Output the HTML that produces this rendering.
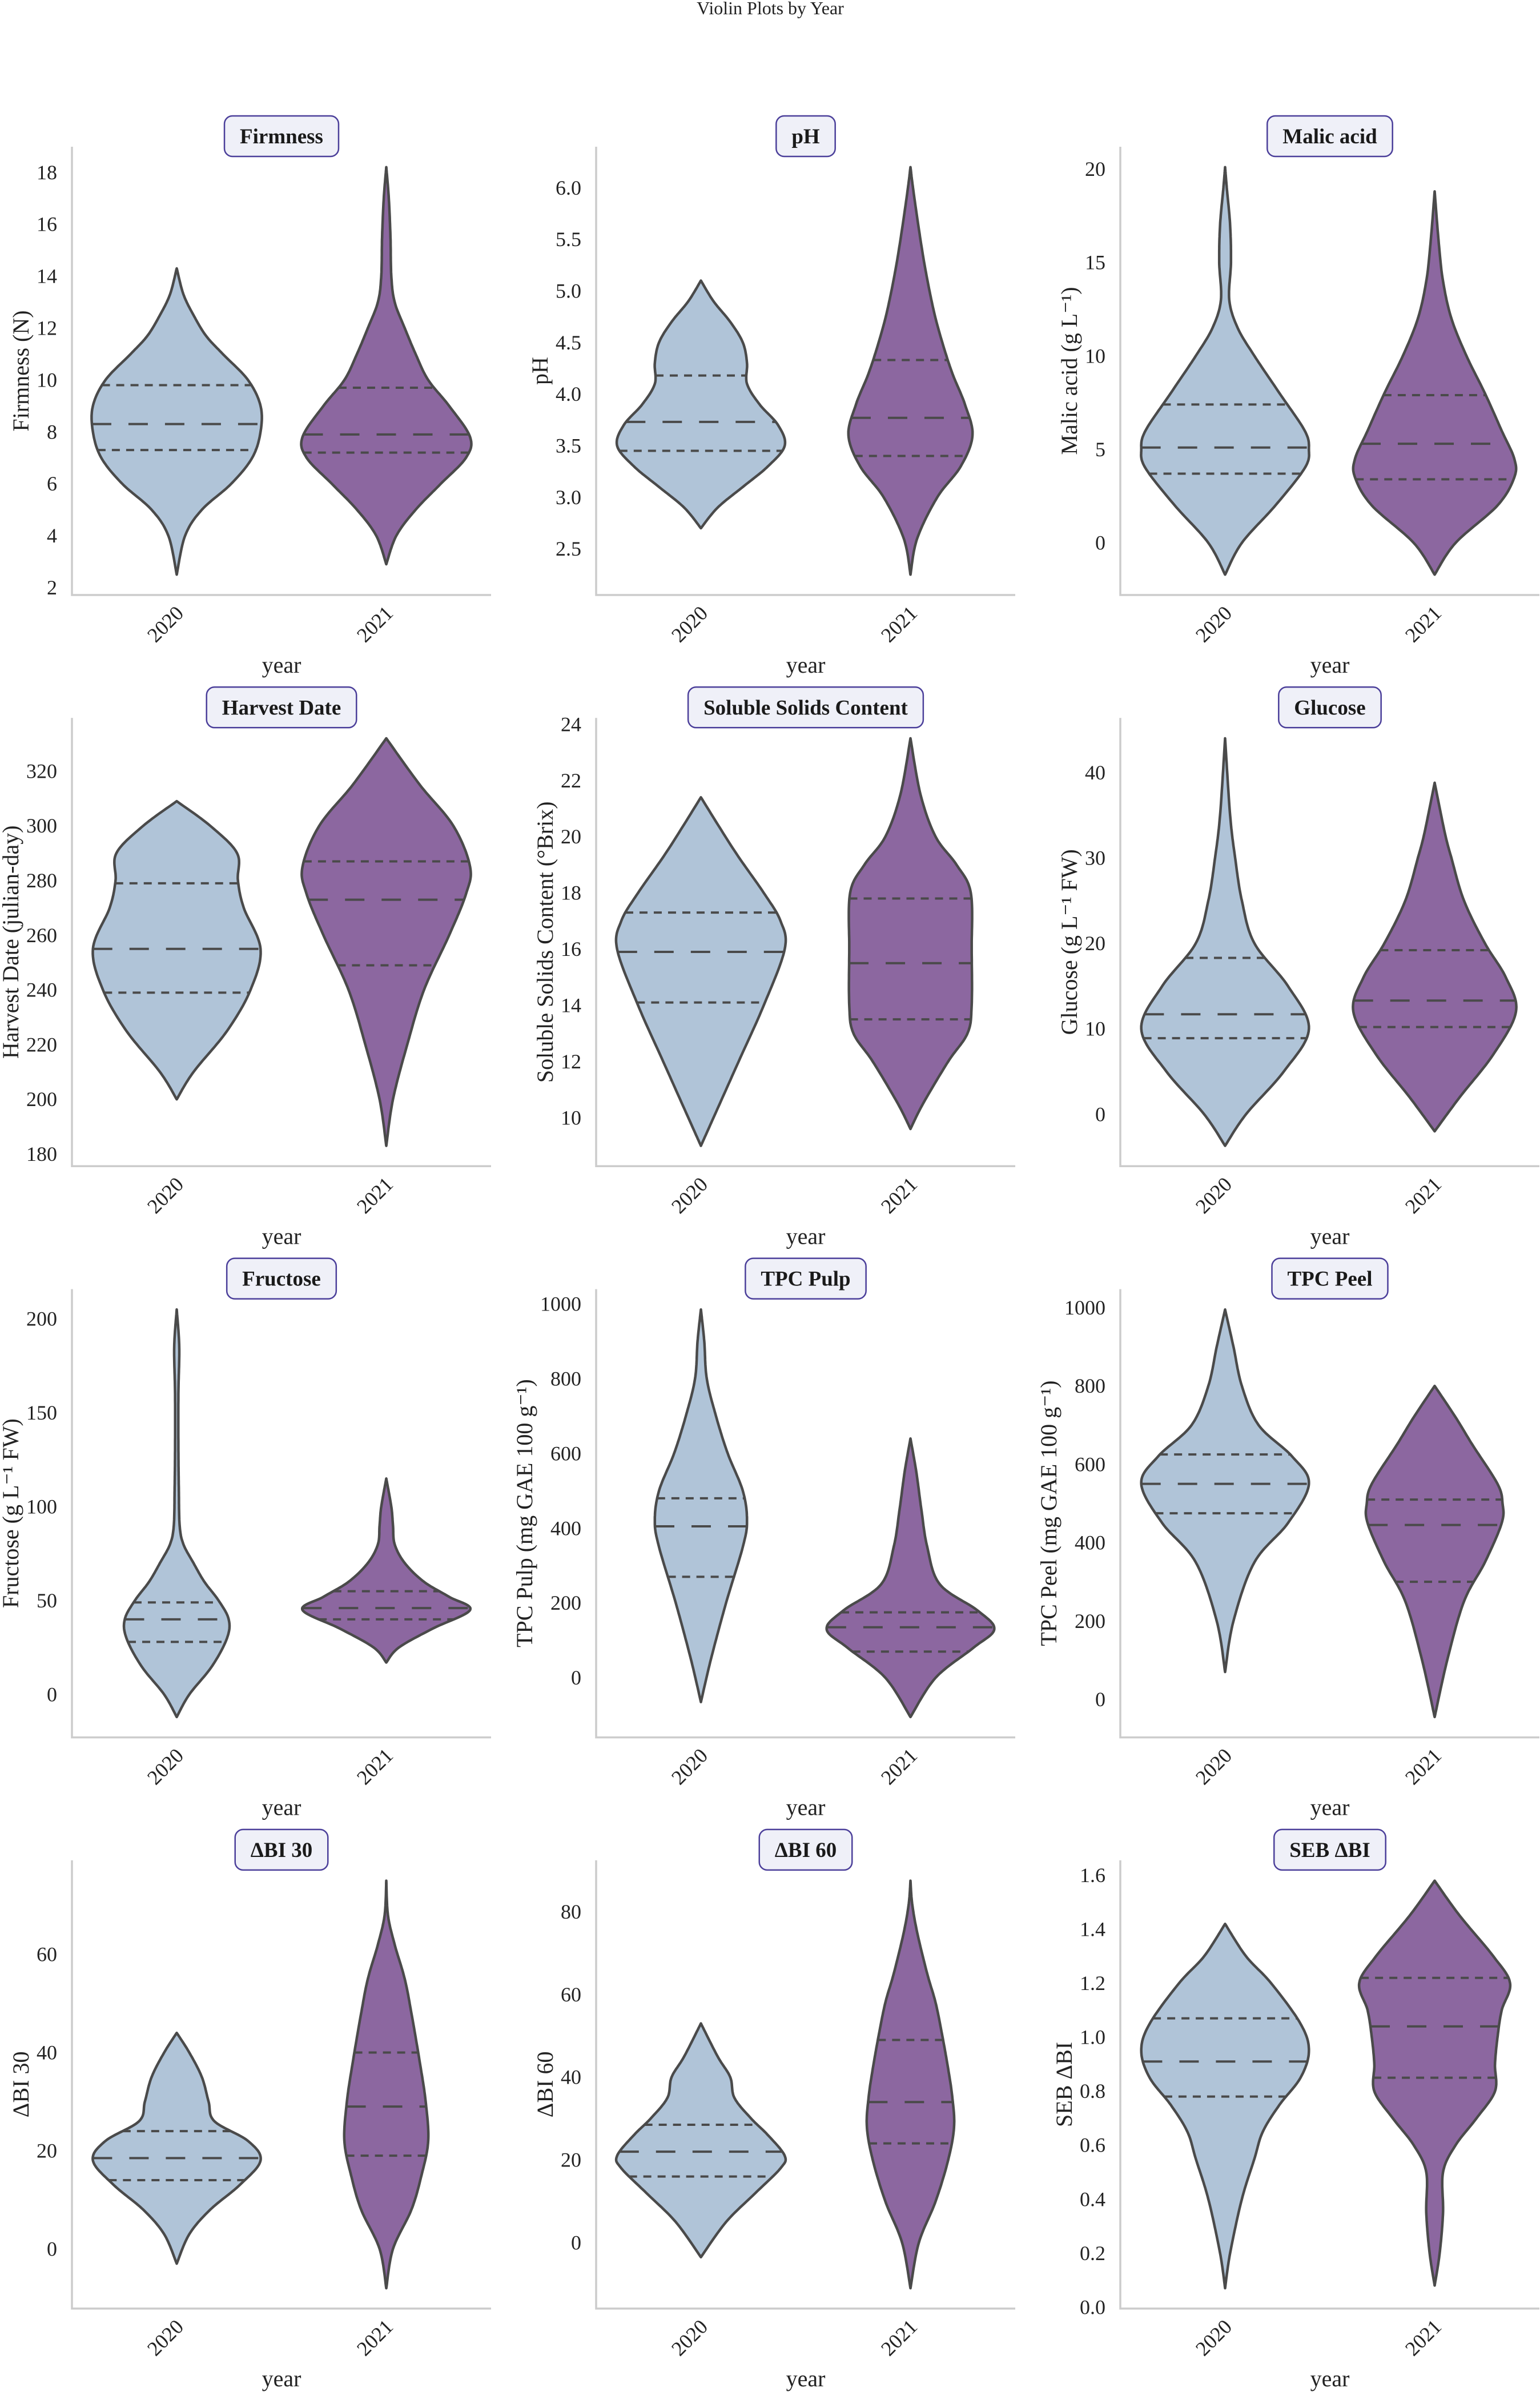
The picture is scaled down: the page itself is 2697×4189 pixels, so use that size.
<!DOCTYPE html>
<html><head><meta charset="utf-8"><style>
html,body{margin:0;padding:0;background:#fff;}
svg{display:block;font-family:"Liberation Serif",serif;}
</style></head><body>
<svg id="fig" xmlns="http://www.w3.org/2000/svg" width="2697" height="4189" viewBox="0 0 2697 4189">
<rect width="2697" height="4189" fill="#fff"/>
<text x="1349" y="25" font-size="32" text-anchor="middle" fill="#222">Violin Plots by Year</text>
</svg>
<script>
// ---- data: profile values (y), relative half-widths, quartiles ----
const years = ["2020","2021"];
const titles = ["Firmness","pH","Malic acid","Harvest Date","Soluble Solids Content","Glucose","Fructose","TPC Pulp","TPC Peel","ΔBI 30","ΔBI 60","SEB ΔBI"];
const ylabels = ["Firmness (N)","pH","Malic acid (g L⁻¹)","Harvest Date (julian-day)","Soluble Solids Content (°Brix)","Glucose (g L⁻¹ FW)","Fructose (g L⁻¹ FW)","TPC Pulp (mg GAE 100 g⁻¹)","TPC Peel (mg GAE 100 g⁻¹)","ΔBI 30","ΔBI 60","SEB ΔBI"];
const ticksFirm = [2,4,6,8,10,12,14,16,18];
const ticksPH = [2.5,3.0,3.5,4.0,4.5,5.0,5.5,6.0];
const ticksMalic = [0,5,10,15,20];
const ticksHarv = [180,200,220,240,260,280,300,320];
const ticksSSC = [10,12,14,16,18,20,22,24];
const ticksGlu = [0,10,20,30,40];
const ticksFru = [0,50,100,150,200];
const ticksPulp = [0,200,400,600,800,1000];
const ticksPeel = [0,200,400,600,800,1000];
const ticksBI30 = [0,20,40,60];
const ticksBI60 = [0,20,40,60,80];
const ticksSEB = [0.0,0.2,0.4,0.6,0.8,1.0,1.2,1.4,1.6];
const tickDecimals = [0,1,0,0,0,0,0,0,0,0,0,1];

const firmV20=[2.5,4,5,6,7,8,9,10,11,11.7,12.5,13.3,14.3], firmW20=[0,0.1,0.3,0.65,0.9,1.0,1.0,0.85,0.55,0.35,0.2,0.08,0], firmQ20=[7.3,8.3,9.8];
const firmV21=[2.9,4,5,6,7,7.8,9,10,11,12,13,14,15.5,17,18.2], firmW21=[0,0.12,0.35,0.65,0.95,1.0,0.75,0.5,0.35,0.22,0.1,0.06,0.05,0.03,0], firmQ21=[7.2,7.9,9.7];
const phV20=[2.7,2.9,3.1,3.3,3.5,3.7,3.9,4.1,4.3,4.5,4.7,4.9,5.1], phW20=[0,0.2,0.5,0.8,1.0,0.92,0.7,0.55,0.55,0.5,0.35,0.15,0], phQ20=[3.45,3.73,4.18];
const phV21=[2.25,2.6,3.0,3.3,3.6,3.9,4.2,4.5,4.8,5.2,5.6,6.0,6.2], phW21=[0,0.08,0.32,0.6,0.74,0.65,0.5,0.38,0.28,0.18,0.1,0.03,0], phQ21=[3.4,3.77,4.33];
const malV20=[-1.7,0,2,4,5,6,8,10,11.5,13,15,17,19,20.1], malW20=[0,0.2,0.6,0.95,1.0,0.95,0.65,0.35,0.15,0.05,0.07,0.06,0.02,0], malQ20=[3.7,5.1,7.4];
const malV21=[-1.7,0,2,3.5,4.5,6,8,10,12,14,16,18.8], malW21=[0,0.25,0.75,0.95,0.95,0.8,0.6,0.38,0.2,0.1,0.05,0], malQ21=[3.4,5.3,7.9];
const harV20=[200,210,225,240,255,270,280,290,300,309], harW20=[0,0.2,0.6,0.88,1.0,0.8,0.73,0.72,0.4,0], harQ20=[239,255,279];
const harV21=[183,200,220,240,260,275,285,300,315,332], harW21=[0,0.08,0.25,0.45,0.75,0.95,1.0,0.8,0.4,0], harQ21=[249,273,287];
const sscV20=[9,10,12,14,16,17,18,19.5,21.4], sscW20=[0,0.15,0.45,0.75,1.0,0.95,0.75,0.4,0], sscQ20=[14.1,15.9,17.3];
const sscV21=[9.6,10.5,12,13,14,16,18,19,20,21.5,23.5], sscW21=[0,0.15,0.45,0.68,0.73,0.73,0.72,0.55,0.3,0.12,0], sscQ21=[13.5,15.5,17.8];
const gluV20=[-3.7,0,5,10,15,20,25,30,35,44], gluW20=[0,0.25,0.7,1.0,0.75,0.35,0.2,0.12,0.06,0], gluQ20=[8.9,11.7,18.3];
const gluV21=[-2,2,7,12,16,20,25,30,33,38.8], gluW21=[0,0.3,0.7,0.97,0.85,0.6,0.35,0.2,0.12,0], gluQ21=[10.2,13.3,19.2];
const fruV20=[-12,0,15,30,40,50,60,70,80,90,110,130,160,185,205], fruW20=[0,0.15,0.42,0.6,0.62,0.5,0.33,0.2,0.08,0.035,0.025,0.02,0.02,0.03,0], fruQ20=[28,40,49];
const fruV21=[17,25,35,45,52,60,70,80,90,100,115], fruW21=[0,0.15,0.55,1.0,0.75,0.45,0.22,0.1,0.08,0.06,0], fruQ21=[40,46,55];
const pulpV20=[-65,50,200,350,420,500,600,700,800,900,985], pulpW20=[0,0.12,0.3,0.5,0.55,0.5,0.32,0.18,0.07,0.04,0], pulpQ20=[270,405,480];
const pulpV21=[-105,0,80,130,180,250,350,450,550,640], pulpW21=[0,0.3,0.75,1.0,0.8,0.35,0.2,0.13,0.07,0], pulpQ21=[70,135,175];
const peelV20=[70,200,350,450,550,620,700,800,900,995], peelW20=[0,0.1,0.35,0.75,1.0,0.8,0.4,0.2,0.1,0], peelQ20=[475,550,625];
const peelV21=[-45,100,250,350,450,500,550,650,720,800], peelW21=[0,0.15,0.35,0.6,0.8,0.81,0.75,0.45,0.25,0], peelQ21=[300,445,510];
const bi30V20=[-3,3,8,13,18,22,26,30,35,40,44], bi30W20=[0,0.15,0.4,0.75,1.0,0.85,0.45,0.38,0.3,0.15,0], bi30Q20=[14,18.5,24];
const bi30V21=[-8,0,8,15,22,30,38,48,55,62,68,75], bi30W21=[0,0.08,0.3,0.42,0.5,0.47,0.4,0.3,0.22,0.1,0.02,0], bi30Q21=[19,29,40];
const bi60V20=[-3.5,5,12,18,21,26,30,35,40,45,53], bi60W20=[0,0.3,0.65,0.95,1.0,0.8,0.6,0.4,0.35,0.2,0], bi60Q20=[16,22,28.5];
const bi60V21=[-11,0,10,20,28,35,42,50,58,65,75,82,87.5], bi60W21=[0,0.1,0.3,0.45,0.52,0.5,0.45,0.38,0.3,0.2,0.08,0.02,0], bi60Q21=[24,34,49];
const sebV20=[0.07,0.2,0.4,0.55,0.65,0.75,0.85,0.95,1.05,1.2,1.3,1.42], sebW20=[0,0.06,0.2,0.35,0.45,0.65,0.9,1.0,0.9,0.55,0.25,0], sebQ20=[0.78,0.91,1.07];
const sebV21=[0.08,0.2,0.35,0.5,0.6,0.7,0.8,0.9,1.0,1.1,1.2,1.3,1.45,1.58], sebW21=[0,0.06,0.1,0.1,0.25,0.5,0.72,0.72,0.75,0.8,0.9,0.7,0.3,0], sebQ21=[0.85,1.04,1.22];

const tickSets=[ticksFirm,ticksPH,ticksMalic,ticksHarv,ticksSSC,ticksGlu,ticksFru,ticksPulp,ticksPeel,ticksBI30,ticksBI60,ticksSEB];
const vals20=[firmV20,phV20,malV20,harV20,sscV20,gluV20,fruV20,pulpV20,peelV20,bi30V20,bi60V20,sebV20];
const wid20=[firmW20,phW20,malW20,harW20,sscW20,gluW20,fruW20,pulpW20,peelW20,bi30W20,bi60W20,sebW20];
const q20=[firmQ20,phQ20,malQ20,harQ20,sscQ20,gluQ20,fruQ20,pulpQ20,peelQ20,bi30Q20,bi60Q20,sebQ20];
const vals21=[firmV21,phV21,malV21,harV21,sscV21,gluV21,fruV21,pulpV21,peelV21,bi30V21,bi60V21,sebV21];
const wid21=[firmW21,phW21,malW21,harW21,sscW21,gluW21,fruW21,pulpW21,peelW21,bi30W21,bi60W21,sebW21];
const q21=[firmQ21,phQ21,malQ21,harQ21,sscQ21,gluQ21,fruQ21,pulpQ21,peelQ21,bi30Q21,bi60Q21,sebQ21];

const NS="http://www.w3.org/2000/svg";
const svg=document.getElementById('fig');
const fills=["#b0c4d8","#8c67a0"];
function mk(tag,attrs,parent){const e=document.createElementNS(NS,tag);for(const k in attrs)e.setAttribute(k,attrs[k]);(parent||svg).appendChild(e);return e;}

function dense(V,W){
  const pts=[];
  for(let i=0;i<V.length-1;i++){
    const p0=[V[Math.max(i-1,0)],W[Math.max(i-1,0)]],p1=[V[i],W[i]],p2=[V[i+1],W[i+1]],p3=[V[Math.min(i+2,V.length-1)],W[Math.min(i+2,V.length-1)]];
    for(let s=0;s<16;s++){const t=s/16,t2=t*t,t3=t2*t;
      const f=(a,b,c,d)=>0.5*((2*b)+(-a+c)*t+(2*a-5*b+4*c-d)*t2+(-a+3*b-3*c+d)*t3);
      pts.push([f(p0[0],p1[0],p2[0],p3[0]),Math.max(0,f(p0[1],p1[1],p2[1],p3[1]))]);}
  }
  pts.push([V[V.length-1],W[W.length-1]]);
  return pts;
}
function widthAt(pts,v){
  for(let i=0;i<pts.length-1;i++){const a=pts[i],b=pts[i+1];
    if((v>=a[0]&&v<=b[0])){const t=(v-a[0])/((b[0]-a[0])||1);return a[1]+t*(b[1]-a[1]);}}
  return 0;
}

for(let p=0;p<12;p++){
  const r=Math.floor(p/3),c=p%3;
  const left=126+918*c,right=left+734,top=257+1000.3*r,bottom=1042+1000.3*r;
  const g=mk('g',{});
  
  
  const allV=vals20[p].concat(vals21[p]);
  const mn=Math.min(...allV),mx=Math.max(...allV),rg=mx-mn;
  const y0=mn-0.05*rg,y1=mx+0.05*rg;
  const Y=v=>bottom-(v-y0)/(y1-y0)*(bottom-top);
  const catW=(right-left)/2, halfMax=0.4*catW;
  const X=i=>left+catW*(i+0.5);
  const ax=mk('path',{d:`M${left} ${top}V${bottom}H${right}`,fill:'none',stroke:'#cccccc','stroke-width':3.5},g);
  
  
  let maxTW=0;
  tickSets[p].forEach(t=>{
    const tx=mk('text',{x:left-26,y:Y(t)+12,'font-size':36,'text-anchor':'end',fill:'#222'},g);
    tx.textContent=t.toFixed(tickDecimals[p]);
    
    
    const w=tx.getComputedTextLength?tx.getComputedTextLength():tx.textContent.length*18;
    if(w>maxTW)maxTW=w;
  });
  const yl=mk('text',{x:0,y:0,'font-size':40,'text-anchor':'middle',fill:'#222',transform:`translate(${left-maxTW-40},${(top+bottom)/2}) rotate(-90)`},g);
  yl.textContent=ylabels[p];
  
  
  years.forEach((yr,i)=>{
    const tx=mk('text',{x:0,y:0,'font-size':36,'text-anchor':'end',fill:'#222',transform:`translate(${X(i)+14},${bottom+34}) rotate(-45)`},g);
    tx.textContent=yr;
    
    
  });
  const xl=mk('text',{x:(left+right)/2,y:bottom+136,'font-size':40,'text-anchor':'middle',fill:'#222'},g);
  xl.textContent='year';
  
  
  [[vals20[p],wid20[p],q20[p]],[vals21[p],wid21[p],q21[p]]].forEach((d,i)=>{
    const pts=dense(d[0],d[1]);const cx=X(i);
    let path='';
    pts.forEach((pt,k)=>{path+=(k?'L':'M')+(cx+pt[1]*halfMax).toFixed(1)+' '+Y(pt[0]).toFixed(1);});
    for(let k=pts.length-1;k>=0;k--){path+='L'+(cx-pts[k][1]*halfMax).toFixed(1)+' '+Y(pts[k][0]).toFixed(1);}
    const vp=mk('path',{d:path+'Z',fill:fills[i],stroke:'#4a4a4a','stroke-width':4.5,'stroke-linejoin':'round'},g);
    
    
    d[2].forEach((q,k)=>{
      const w=widthAt(pts,q)*halfMax;
      const ln=mk('line',{x1:cx-w,x2:cx+w,y1:Y(q),y2:Y(q),stroke:'#4a4a4a','stroke-width':4,'stroke-dasharray':k===1?'34 30':'14 11'},g);
      
      
    });
  });
  const tcx=(left+right)/2;
  const tt=mk('text',{x:tcx,y:top-54+48,'font-size':37,'font-weight':'bold','text-anchor':'middle',fill:'#1a1a1a'},g);
  tt.textContent=titles[p];
  
  
  let tw=tt.getComputedTextLength?tt.getComputedTextLength():titles[p].length*18;
  const bx=mk('rect',{x:tcx-tw/2-27,y:top-54,width:tw+54,height:71,rx:14,fill:'#eff0f8',stroke:'#4b3f9a','stroke-width':2.5},g);
  
  
  g.insertBefore(bx,tt);
}
</script>
</body></html>
